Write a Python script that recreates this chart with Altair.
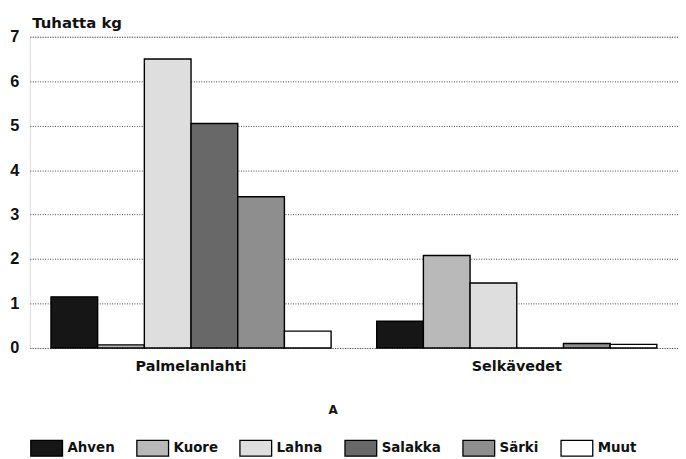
import altair as alt
import pandas as pd

sites = ["Palmelanlahti", "Selkävedet"]
species = ["Ahven", "Kuore", "Lahna", "Salakka", "Särki", "Muut"]
palmelanlahti = [1.15, 0.07, 6.5, 5.05, 3.4, 0.38]
selkavedet = [0.6, 2.08, 1.46, 0.0, 0.1, 0.08]
fills = ["#161616", "#b9b9b9", "#dedede", "#686868", "#8e8e8e", "#ffffff"]
y_ticks = [0, 1, 2, 3, 4, 5, 6, 7]

rows = []
for s, vals in zip(sites, [palmelanlahti, selkavedet]):
    for sp, v in zip(species, vals):
        rows.append({"site": s, "species": sp, "value": v})
df = pd.DataFrame(rows)

chart = (
    alt.Chart(df)
    .mark_bar(stroke="black", strokeWidth=1.4)
    .encode(
        x=alt.X(
            "site:N",
            sort=sites,
            scale=alt.Scale(paddingInner=0.14, paddingOuter=0.065),
            axis=alt.Axis(
                title=None,
                labelAngle=0,
                ticks=False,
                domain=False,
                labelPadding=12,
                labelFont="DejaVu Sans",
                labelFontWeight="bold",
                labelFontSize=14.5,
                labelColor="#111",
            ),
        ),
        xOffset=alt.XOffset(
            "species:N",
            sort=species,
            scale=alt.Scale(paddingInner=0, paddingOuter=0),
        ),
        y=alt.Y(
            "value:Q",
            scale=alt.Scale(domain=[0, 7], nice=False),
            axis=alt.Axis(
                title="Tuhatta kg",
                titleAngle=0,
                titleAlign="left",
                titleBaseline="alphabetic",
                titleX=2,
                titleY=-9,
                titleFont="DejaVu Sans",
                titleFontWeight="bold",
                titleFontSize=15,
                titleColor="#111",
                values=y_ticks,
                ticks=False,
                domain=False,
                labelPadding=11,
                labelFont="Liberation Sans",
                labelFontWeight="bold",
                labelFontSize=16.5,
                labelColor="#111",
                grid=True,
                gridColor="#444",
                gridDash=[1, 1.5],
                gridWidth=1,
            ),
        ),
        fill=alt.Fill(
            "species:N",
            sort=species,
            scale=alt.Scale(domain=species, range=fills),
            legend=alt.Legend(
                title="A",
                orient="none",
                legendX=0,
                legendY=372,
                direction="horizontal",
                columns=6,
                titleAnchor="middle",
                titleFont="DejaVu Sans",
                titleFontWeight="bold",
                titleFontSize=12,
                titleColor="#111",
                titlePadding=14,
                symbolType="M-1,-0.5H1V0.5H-1Z",
                symbolSize=1024,
                symbolStrokeColor="black",
                symbolStrokeWidth=1.3,
                symbolOpacity=1,
                labelFont="DejaVu Sans",
                labelFontWeight="bold",
                labelFontSize=13.5,
                labelColor="#111",
                labelOffset=4,
                columnPadding=19,
            ),
        ),
    )
    .properties(
        width=654,
        height=314,
        autosize=alt.AutoSizeParams(type="none"),
        padding={"left": 22, "top": 27, "right": 0, "bottom": 108},
    )
    .configure_view(stroke="black", strokeWidth=1.6)
    .configure(background="white")
)

chart.save("out.html", embed_options={"renderer": "svg", "actions": False})
